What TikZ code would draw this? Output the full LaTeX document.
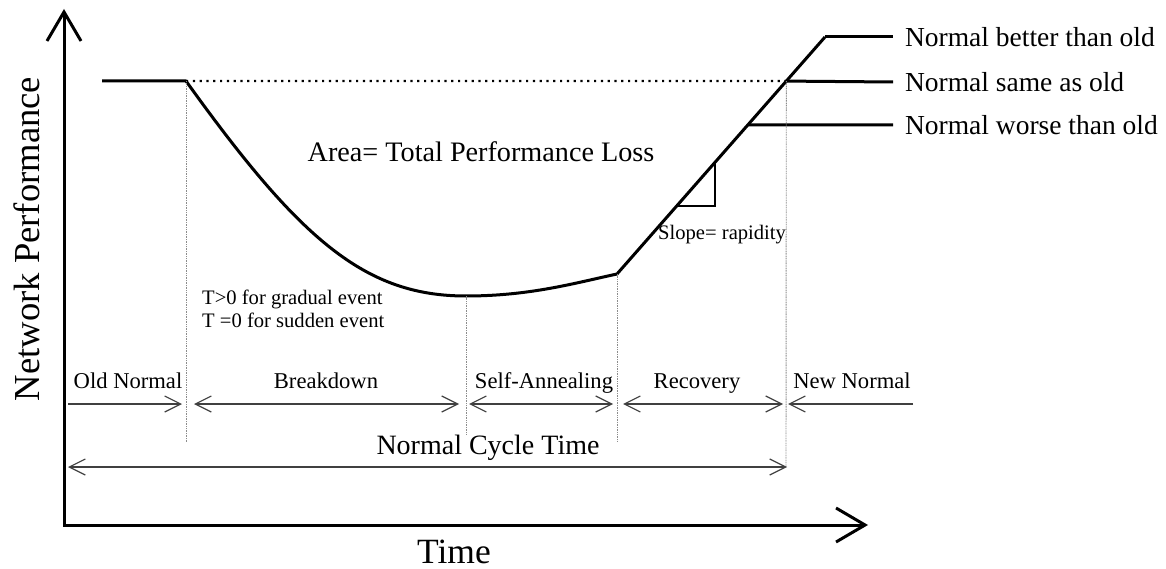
\documentclass[tikz,border=0pt]{standalone}
\usepackage{fontspec}
\setmainfont{Liberation Serif}
\usetikzlibrary{arrows.meta,calc}

\newcommand{\fs}[1]{\fontsize{#1}{#1}\selectfont}

\begin{document}
\begin{tikzpicture}[x=1pt,y=-1pt,
  axis/.style={line width=3pt, line join=miter,
    {Straight Barb[length=29pt,width=34pt]}-{Straight Barb[length=29pt,width=34pt]}},
  perf/.style={line width=3pt, line join=round},
  level/.style={line width=3pt},
  oldlevel/.style={line width=2.2pt, dash pattern=on 2.2pt off 4.6pt},
  guide/.style={draw=black!45, line width=0.9pt, dash pattern=on 1pt off 0.7pt},
  slopebox/.style={line width=2pt, line join=miter},
  span/.style={draw=black!75, line width=1.2pt},
  tipR/.style={-{Straight Barb[length=16pt,width=16pt]}},
  tipLR/.style={{Straight Barb[length=16pt,width=16pt]}-{Straight Barb[length=16pt,width=16pt]}},
  outcome/.style={anchor=west, inner sep=0pt, outer sep=0pt, font=\fs{27.5}},
  phase/.style={anchor=base, inner sep=0pt, font=\fs{22.6}},
  note/.style={anchor=base west, inner sep=0pt, font=\fs{20.6}},
]
\useasboundingbox (0,0) rectangle (1166,569);

% axes
\coordinate (ytip) at (64,9);
\coordinate (xtip) at (868,525);
\draw[axis] (ytip) |- (xtip);
\node[font=\fs{36.6}, rotate=90, inner sep=0pt] (ylab) at (27,239) {Network Performance};
\node[font=\fs{35.5}, inner sep=0pt] (xlab) at (454,552) {Time};

% performance curve
\coordinate (start) at (102,81);
\coordinate (drop) at (186,81);
\coordinate (low) at (466,296);
\coordinate (knee) at (617,274);
\coordinate (top) at (825,37);
\coordinate (same) at ($(knee)!0.814!(top)$);
\coordinate (worse) at ($(knee)!0.629!(top)$);

\draw[perf] (start) -- (drop)
  .. controls (300,240) and (365,296) .. (low)
  .. controls (530,296) and (575,283) .. (knee)
  -- (top);
\draw[oldlevel] (drop) -- (same);

% outcomes after recovery
\node[outcome] (better) at (905,37) {Normal better than old};
\node[outcome] (asold) at (905,82) {Normal same as old};
\node[outcome] (lower) at (905,125) {Normal worse than old};
\draw[level] (top) -- ([xshift=-12pt]better.west);
\draw[level] (same) -- ([xshift=-12pt]asold.west);
\draw[level] (worse) -- ([xshift=-12pt]lower.west);

% slope triangle
\coordinate (s1) at ($(knee)!0.287!(top)$);
\coordinate (s2) at ($(knee)!0.471!(top)$);
\draw[slopebox] (s1) -- (s1 -| s2) -- (s2);
\node[note] (slope) at (658,240) {Slope= rapidity};

% labels inside
\node[anchor=base, inner sep=0pt, font=\fs{28.2}] (area) at (481,162) {Area= Total Performance Loss};
\node[note] (grad) at (202,304) {T>0 for gradual event};
\node[note] (sudd) at (202,327) {T =0 for sudden event};

% phase boundaries
\coordinate (g1) at (186,443);
\coordinate (g2) at (466,435);
\coordinate (g3) at (617,442);
\coordinate (g4) at (786,467);
\draw[guide] (drop) -- (g1);
\draw[guide] (low) -- (g2);
\draw[guide] (knee) -- (g3);
\draw[guide] (same) -- (g4);

% phase spans
\coordinate (a0) at (68,404);
\coordinate (a1) at (182,404);
\coordinate (b0) at (194,404);
\coordinate (b1) at (459,404);
\coordinate (c0) at (469,404);
\coordinate (c1) at (613,404);
\coordinate (d0) at (623,404);
\coordinate (d1) at (783,404);
\coordinate (e0) at (913,404);
\coordinate (e1) at (788,404);
\coordinate (f0) at (68,467);
\coordinate (f1) at (787,467);
\draw[span, tipR] (a0) -- (a1);
\draw[span, tipLR] (b0) -- (b1);
\draw[span, tipLR] (c0) -- (c1);
\draw[span, tipLR] (d0) -- (d1);
\draw[span, tipR] (e0) -- (e1);
\draw[span, tipLR] (f0) -- (f1);

\node[phase] (pold) at (128,388) {Old Normal};
\node[phase] (pbrk) at (326,388) {Breakdown};
\node[phase] (psa) at (544,388) {Self-Annealing};
\node[phase] (prec) at (697,388) {Recovery};
\node[phase] (pnew) at (852,388) {New Normal};
\node[anchor=base, inner sep=0pt, font=\fs{28}] (cycle) at (488,454) {Normal Cycle Time};
\end{tikzpicture}
\end{document}
